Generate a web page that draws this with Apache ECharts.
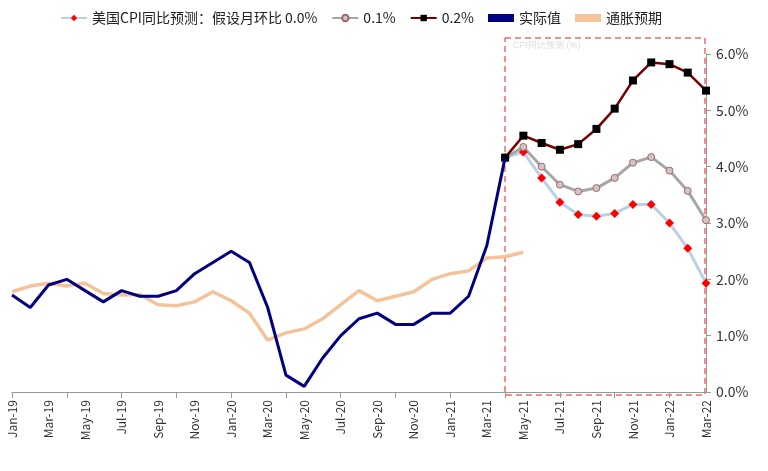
<!DOCTYPE html>
<html><head><meta charset="utf-8">
<script src="https://cdn.jsdelivr.net/npm/echarts@6/dist/echarts.min.js"></script>
<style>html,body{margin:0;padding:0;background:#fff}#main{width:768px;height:471px}</style>
</head><body><div id="main"></div>
<script>
var months = ['Jan','Feb','Mar','Apr','May','Jun','Jul','Aug','Sep','Oct','Nov','Dec'];
var categories = [];
for (var y = 19; y <= 22; y++) {
  for (var m = 0; m < 12; m++) {
    if (y == 22 && m > 2) break;
    categories.push(months[m] + '-' + y);
  }
}
var actual = [1.72,1.5,1.9,2.0,1.8,1.6,1.8,1.7,1.7,1.8,2.1,2.3,2.5,2.3,1.5,0.3,0.1,0.6,1.0,1.3,1.4,1.2,1.2,1.4,1.4,1.7,2.6,4.16];
var expect = [1.78,1.88,1.93,1.88,1.93,1.75,1.72,1.73,1.55,1.53,1.53,1.6,1.78,1.62,1.4,0.92,1.05,1.12,1.3,1.55,1.8,1.62,1.7,1.78,2.0,2.1,2.15,2.38,2.4,2.48];
expect.splice(9, 1);
// 预测起点在 Apr-21 (index 27)
var startIdx = 27;
var p00 = [4.16,4.26,3.8,3.37,3.15,3.12,3.17,3.33,3.33,3.0,2.55,1.93];
var p01 = [4.16,4.35,4.0,3.68,3.56,3.62,3.8,4.07,4.17,3.93,3.57,3.05];
var p02 = [4.16,4.55,4.42,4.3,4.4,4.67,5.03,5.53,5.85,5.82,5.67,5.35];

function pad(arr, start) {
  var out = [];
  for (var i = 0; i < start; i++) out.push('-');
  return out.concat(arr);
}

var myChart = echarts.init(document.getElementById('main'));
var font = 'Noto Sans CJK SC';
myChart.setOption({
  animation: false,
  textStyle: { fontFamily: font },
  legend: {
    top: 6, left: 55, itemGap: 14, itemWidth: 26, itemHeight: 8,
    textStyle: { fontSize: 14, color: '#222', fontFamily: font },
    data: ['美国CPI同比预测：假设月环比 0.0%', '0.1%', '0.2%', {name: '实际值', icon: 'rect'}, {name: '通胀预期', icon: 'rect'}]
  },
  grid: { left: 12, right: 62, top: 54, bottom: 79 },
  xAxis: {
    type: 'category', data: categories, boundaryGap: false,
    axisLine: { lineStyle: { color: '#999' } },
    axisTick: { show: true, interval: 2, lineStyle: { color: '#999' }, length: 6 },
    axisLabel: { interval: 1, rotate: 90, color: '#333', fontSize: 12, fontFamily: font }
  },
  yAxis: {
    type: 'value', position: 'right', min: 0, max: 6, interval: 1,
    splitLine: { show: false },
    axisLine: { show: true, lineStyle: { color: '#999' } },
    axisTick: { show: true, lineStyle: { color: '#999' } },
    axisLabel: { color: '#333', fontSize: 14, margin: 10, formatter: function (v) { return v.toFixed(1) + '%'; } }
  },
  graphic: [{
    type: 'rect', shape: { x: 505, y: 38, width: 200, height: 357 },
    style: { fill: 'none', stroke: '#e02020', lineWidth: 1, lineDash: [6, 4] }
  }, {
    type: 'text', left: 513, top: 41,
    style: { text: 'CPI同比预测 (%)', fill: '#ddd', fontSize: 9 }
  }],
  series: [{
    name: '美国CPI同比预测：假设月环比 0.0%', type: 'line', data: pad(p00, startIdx),
    symbol: 'diamond', symbolSize: 9, showAllSymbol: true,
    lineStyle: { color: '#bcd0e4', width: 3 }, itemStyle: { color: '#ff0000' }
  }, {
    name: '0.1%', type: 'line', data: pad(p01, startIdx),
    symbol: 'circle', symbolSize: 7,
    lineStyle: { color: '#a6a6a6', width: 3 }, itemStyle: { color: '#d0c4c4', borderColor: '#a06868', borderWidth: 1 }
  }, {
    name: '0.2%', type: 'line', data: pad(p02, startIdx),
    symbol: 'rect', symbolSize: 8,
    lineStyle: { color: '#7a0000', width: 2.5 }, itemStyle: { color: '#000' }
  }, {
    name: '实际值', type: 'line', data: actual, symbol: 'none',
    lineStyle: { color: '#000080', width: 3 }, itemStyle: { color: '#000080' }, z: 5
  }, {
    name: '通胀预期', type: 'line', data: expect, symbol: 'none',
    lineStyle: { color: '#f4c39a', width: 3.5 }, itemStyle: { color: '#f4c39a' }
  }]
});
</script></body></html>
